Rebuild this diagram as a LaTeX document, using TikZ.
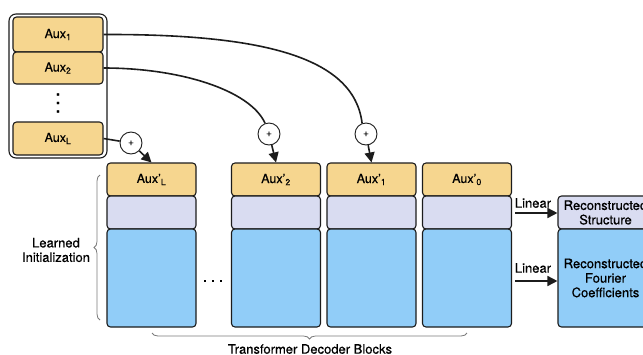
\documentclass[tikz,border=0pt]{standalone}
\usepackage{fontspec}
\setmainfont{TeX Gyre Heros}[FakeBold=0.5]
\usetikzlibrary{arrows.meta,decorations.pathreplacing}
\definecolor{auxy}{HTML}{F6D68F}
\definecolor{lav}{HTML}{D9DCF1}
\definecolor{blu}{HTML}{91CDF8}
\definecolor{edge}{HTML}{1C1C1C}
\definecolor{brc}{HTML}{7A7A7A}
\tikzset{
  blk/.style={draw=edge, line width=1.1pt, rounded corners=3.5pt, inner sep=0pt, align=center,
    font=\fontsize{13}{14.5}\selectfont},
  auxbox/.style={blk, fill=auxy, font=\fontsize{12.5}{14}\selectfont},
  lavbox/.style={blk, fill=lav},
  blubox/.style={blk, fill=blu},
  plusnode/.style={circle, draw=edge, line width=0.9pt, fill=white, minimum size=22pt, inner sep=0pt,
    font=\fontsize{10}{10}\selectfont},
  conn/.style={draw=edge, line width=1.6pt},
  arr/.style={conn, -{Triangle[length=10pt,width=10pt]}},
  lbl/.style={font=\fontsize{13}{14.5}\selectfont, align=center, inner sep=0pt},
  dotsty/.style={font=\fontsize{20}{8.5}\selectfont, align=center, inner sep=0pt},
  bracestyle/.style={draw=brc, line width=0.8pt, decorate, decoration={brace, amplitude=6pt}},
}
\begin{document}
\begin{tikzpicture}[x=1pt,y=-1pt]
\useasboundingbox (0,0) rectangle (643,354);
\clip (0,0) rectangle (643,354);

% left auxiliary stack
\node[draw=edge, line width=1.1pt, rounded corners=7pt, minimum width=98pt, minimum height=144pt, inner sep=0pt] (stack) at (58,86) {};
\node[auxbox, minimum width=90pt, minimum height=35pt] (a1) at (58,34.5) {Aux\textsubscript{1}};
\node[auxbox, minimum width=90pt, minimum height=32pt] (a2) at (58,68) {Aux\textsubscript{2}};
\node[dotsty] (vdots) at (58,103) {.\\.\\.};
\node[auxbox, minimum width=90pt, minimum height=33pt] (aL) at (58,138.5) {Aux\textsubscript{L}};

% columns
\foreach \n/\x/\t in {1/151.5/{Aux'\textsubscript{L}}, 2/276/{Aux'\textsubscript{2}}, 3/371.5/{Aux'\textsubscript{1}}, 4/467/{Aux'\textsubscript{0}}}{
  \node[auxbox, minimum width=89pt, minimum height=33pt] (y\n) at (\x,179.5) {\t};
  \node[lavbox, minimum width=89pt, minimum height=33pt] (l\n) at (\x,212.5) {};
  \node[blubox, minimum width=89pt, minimum height=98pt] (b\n) at (\x,278) {};
}
\node[dotsty, font=\fontsize{18}{18}\selectfont] (hdots) at (213,281) {.\,.\,.};

% plus circles
\node[plusnode] (pL) at (131,143) {+};
\node[plusnode] (p2) at (269,134) {+};
\node[plusnode] (p3) at (366,134) {+};

% connectors
\draw[conn] (a1.east) .. controls (260,34) and (354,56) .. (p3.110);
\draw[conn] (a2.east) .. controls (180,68) and (250,90) .. (p2.110);
\draw[conn] (aL.east) -- (pL);
\draw[arr] (pL) -- (y1.north);
\draw[arr] (p2) -- (y2.north);
\draw[arr] (p3) -- (y3.north);

% outputs
\node[lavbox, minimum width=95pt, minimum height=33pt] (rs) at (605.5,212.5) {Reconstructed\\Structure};
\node[blubox, minimum width=95pt, minimum height=98pt] (rf) at (605.5,278) {Reconstructed\\Fourier\\Coefficients};
\coordinate (s1) at (515,213);
\coordinate (s2) at (515,281);
\draw[arr] (s1) -- (rs.west |- s1);
\draw[arr] (s2) -- (rf.west |- s2);
\node[lbl] (lin1) at (533,203) {Linear};
\node[lbl] (lin2) at (533,268) {Linear};

% braces
\coordinate (bl1) at (100,320);
\coordinate (bl2) at (100,175);
\draw[bracestyle] (bl1) -- (bl2);
\node[lbl] (learn) at (56,250) {Learned\\Initialization};
\coordinate (bb1) at (467,333);
\coordinate (bb2) at (152,333);
\draw[bracestyle] (bb1) -- (bb2);
\node[lbl] (tdb) at (310,349) {Transformer Decoder Blocks};
\end{tikzpicture}
\end{document}
